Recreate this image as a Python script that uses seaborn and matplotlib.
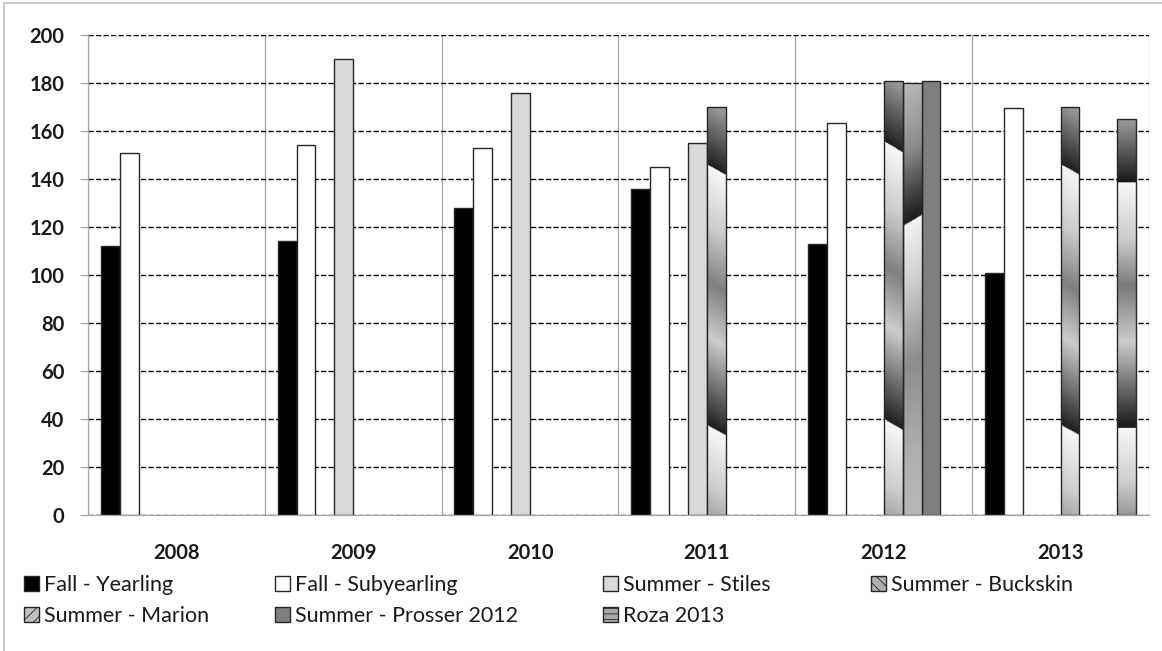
import numpy as np
import pandas as pd
import matplotlib
matplotlib.use("Agg")
import matplotlib.pyplot as plt
import seaborn as sns
from matplotlib.patches import Patch
from matplotlib.colors import to_rgba
from matplotlib.lines import Line2D

# ---------------- data ----------------
years = ["2008", "2009", "2010", "2011", "2012", "2013"]
series_names = ["Fall - Yearling", "Fall - Subyearling", " ", "Summer - Stiles",
                "Summer - Buckskin", "Summer - Marion", "Summer - Prosser 2012", "Roza 2013"]
nan = np.nan
fall_yearling = [112, 114, 128, 136, 113, 101]
fall_subyearling = [151, 154, 153, 145, 163.5, 169.5]
blank_series = [nan, nan, nan, nan, nan, nan]
summer_stiles = [nan, 190, 176, 155, nan, nan]
summer_buckskin = [nan, nan, nan, 170, 181, 170]
summer_marion = [nan, nan, nan, nan, 180, nan]
summer_prosser = [nan, nan, nan, nan, 181, nan]
roza_2013 = [nan, nan, nan, nan, nan, 165]
y_ticks = [0, 20, 40, 60, 80, 100, 120, 140, 160, 180, 200]

values = [fall_yearling, fall_subyearling, blank_series, summer_stiles,
          summer_buckskin, summer_marion, summer_prosser, roza_2013]
rows = []
for name, vals in zip(series_names, values):
    for yr, v in zip(years, vals):
        rows.append({"year": yr, "series": name, "value": v})
df = pd.DataFrame(rows).dropna()

palette = {"Fall - Yearling": "#000000", "Fall - Subyearling": "#ffffff", " ": "#eeeeee",
           "Summer - Stiles": "#d9d9d9", "Summer - Buckskin": "#a1a1a1",
           "Summer - Marion": "#a2a2a2", "Summer - Prosser 2012": "#7f7f7f",
           "Roza 2013": "#a3a3a3"}

# ---------------- style ----------------
sns.set_style("white")
plt.rcParams["font.family"] = ["Lato", "DejaVu Sans"]
plt.rcParams["hatch.linewidth"] = 0.6

W, H = 1162, 651
fig = plt.figure(figsize=(W / 100, H / 100), dpi=100)
ax = fig.add_axes([88 / W, 1 - 515 / H, (1149 - 88) / W, (515 - 35) / H])

sns.barplot(data=df, x="year", y="value", hue="series", hue_order=series_names,
            order=years, palette=palette, width=0.855, gap=0, dodge=True,
            saturation=1, edgecolor="#262626", linewidth=1.0, legend=False,
            errorbar=None, ax=ax)

# ---------------- textures for gradient-filled bars ----------------
def profile(kind, Hn=400, Wn=40):
    t = np.linspace(0, 1, Hn)[:, None]
    xr = np.linspace(0, 1, Wn)[None, :]
    if kind == "buckskin":
        u = ((t - 0.025 * xr - 0.14) / 0.64) % 1.0
        pu = [0, 0.23, 0.45, 0.66, 0.97, 1.0]
        pv = [0.97, 0.80, 0.50, 0.80, 0.18, 0.12]
    elif kind == "marion":
        u = ((t + 0.025 * xr - 0.33) / 1.0) % 1.0
        pu = [0, 0.13, 0.33, 0.53, 0.68, 0.83, 0.98, 1.0]
        pv = [0.95, 0.82, 0.55, 0.68, 0.72, 0.55, 0.15, 0.12]
    else:  # roza
        u = ((t + 0 * xr - 0.16) / 0.62) % 1.0
        pu = [0, 0.23, 0.42, 0.65, 0.97, 1.0]
        pv = [0.97, 0.80, 0.48, 0.80, 0.15, 0.10]
    return np.interp(u, pu, pv)

tex_map = {
    tuple(np.round(to_rgba(palette["Summer - Buckskin"]), 3)): "buckskin",
    tuple(np.round(to_rgba(palette["Summer - Marion"]), 3)): "marion",
    tuple(np.round(to_rgba(palette["Roza 2013"]), 3)): "roza",
}
for p in list(ax.patches):
    key = tuple(np.round(p.get_facecolor(), 3))
    if key in tex_map and p.get_height() > 0:
        x0, w, h = p.get_x(), p.get_width(), p.get_height()
        img = profile(tex_map[key])
        im = ax.imshow(img, cmap="gray", vmin=0, vmax=1, extent=(x0, x0 + w, 0, h),
                       aspect="auto", origin="upper", interpolation="bilinear", zorder=1.5)
        im.set_clip_path(p)
        p.set_facecolor("none")
        p.set_zorder(2)

# ---------------- axes ----------------
ax.set_xlim(-0.5, 5.5)
ax.set_ylim(0, 200)
ax.set_yticks(y_ticks)
ax.set_yticklabels([str(v) for v in y_ticks], fontweight="bold", fontsize=14.5, color="#1a1a1a")
ax.set_xticks(range(len(years)))
ax.set_xticklabels(years, fontweight="bold", fontsize=14.5, color="#1a1a1a")
ax.set_xticks(np.arange(-0.5, 6, 1), minor=True)
ax.set_xlabel("")
ax.set_ylabel("")

ax.set_axisbelow(True)
ax.yaxis.grid(True, color="black", linewidth=1.0, linestyle=(0, (3.8, 1.6)))
ax.xaxis.grid(False, which="major")
ax.xaxis.grid(True, which="minor", color="#a6a6a6", linewidth=0.9, linestyle="-")

ax.tick_params(axis="x", which="major", length=0, pad=20)
ax.tick_params(axis="x", which="minor", length=6, width=0.9, color="#a6a6a6", direction="out")
ax.tick_params(axis="y", which="major", length=6, width=0.9, color="#a6a6a6",
               direction="out", pad=11, left=True)

for side in ["top", "right"]:
    ax.spines[side].set_visible(False)
for side in ["left", "bottom"]:
    ax.spines[side].set_color("#a6a6a6")
    ax.spines[side].set_linewidth(0.9)

# ---------------- legend: one column per legend, placed like the original ----------------
h_yearling = Patch(facecolor="#000000", edgecolor="#262626", label="Fall - Yearling")
h_subyear = Patch(facecolor="#ffffff", edgecolor="#262626", label="Fall - Subyearling")
h_stiles = Patch(facecolor="#d9d9d9", edgecolor="#262626", label="Summer - Stiles")
h_buck = Patch(facecolor="#b0b0b0", edgecolor="#262626", hatch="\\\\\\", label="Summer - Buckskin")
h_marion = Patch(facecolor="#c0c0c0", edgecolor="#262626", hatch="///", label="Summer - Marion")
h_prosser = Patch(facecolor="#7f7f7f", edgecolor="#262626", label="Summer - Prosser 2012")
h_roza = Patch(facecolor="#a8a8a8", edgecolor="#262626", hatch="---", label="Roza 2013")
legend_columns = [[h_yearling, h_marion], [h_subyear, h_prosser], [h_stiles, h_roza], [h_buck]]
legend_col_x = [24, 275, 603, 871]

for handles, xpix in zip(legend_columns, legend_col_x):
    leg = fig.legend(handles=handles, ncol=1, loc="upper left",
                     bbox_to_anchor=(xpix / W, 1 - 575 / H), frameon=False,
                     fontsize=15.5, handlelength=0.7, handleheight=0.7,
                     handletextpad=0.25, labelspacing=0.5,
                     borderaxespad=0, borderpad=0)
    for txt in leg.get_texts():
        txt.set_color("#1a1a1a")

# ---------------- chart area border ----------------
fig.add_artist(Line2D([4 / W, 4 / W], [0, 1 - 3 / H], transform=fig.transFigure,
                      color="#c8c8c8", linewidth=1.5))
fig.add_artist(Line2D([4 / W, 1], [1 - 3 / H, 1 - 3 / H], transform=fig.transFigure,
                      color="#c8c8c8", linewidth=1.5))

fig.savefig("out.png", dpi=100)
